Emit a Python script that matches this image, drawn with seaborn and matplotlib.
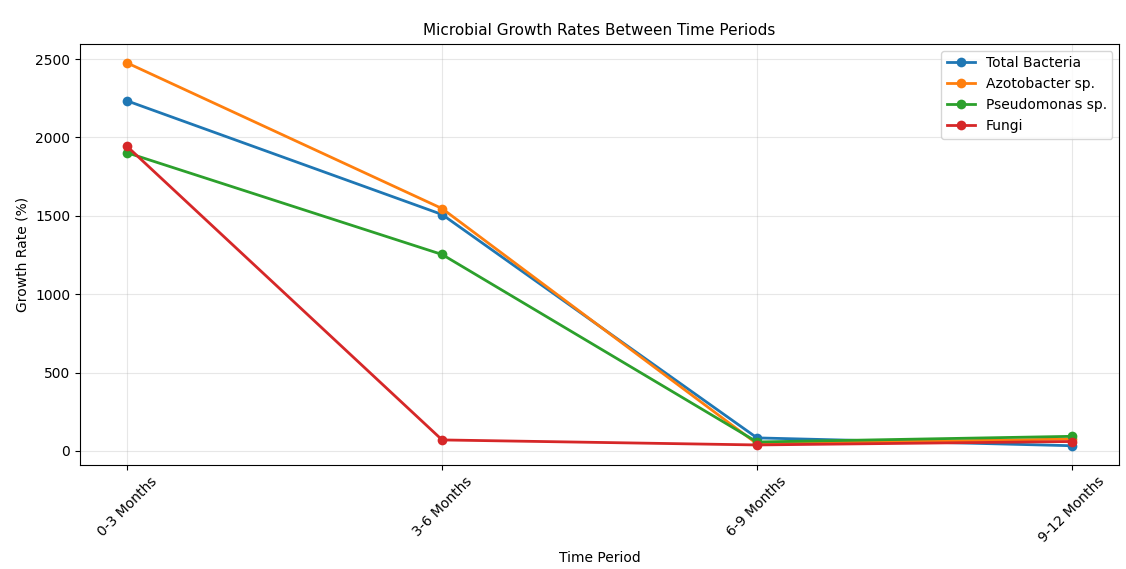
import numpy as np
import pandas as pd
import matplotlib
matplotlib.use("Agg")
import matplotlib.pyplot as plt
import seaborn as sns

periods = ["0-3 Months", "3-6 Months", "6-9 Months", "9-12 Months"]
total_bacteria = [2233, 1508, 83, 33]
azotobacter = [2475, 1546, 45, 76]
pseudomonas = [1902, 1253, 57, 93]
fungi = [1942, 70, 38, 60]

series = {
    "Total Bacteria": total_bacteria,
    "Azotobacter sp.": azotobacter,
    "Pseudomonas sp.": pseudomonas,
    "Fungi": fungi,
}
colors = ["#1f77b4", "#ff7f0e", "#2ca02c", "#d62728"]

fig, ax = plt.subplots(figsize=(11.26, 5.69), dpi=100)
for (name, vals), c in zip(series.items(), colors):
    sns.lineplot(x=periods, y=vals, ax=ax, label=name, color=c,
                 marker="o", markersize=7, markeredgewidth=0, linewidth=2)

ax.set_title("Microbial Growth Rates Between Time Periods", fontsize=11)
ax.set_xlabel("Time Period")
ax.set_ylabel("Growth Rate (%)")
ax.grid(True, alpha=0.3)
plt.setp(ax.get_xticklabels(), rotation=45)
ax.legend(loc="upper right")
fig.subplots_adjust(left=0.071, right=0.994, top=0.923, bottom=0.183)
fig.savefig("out.png", dpi=100)
